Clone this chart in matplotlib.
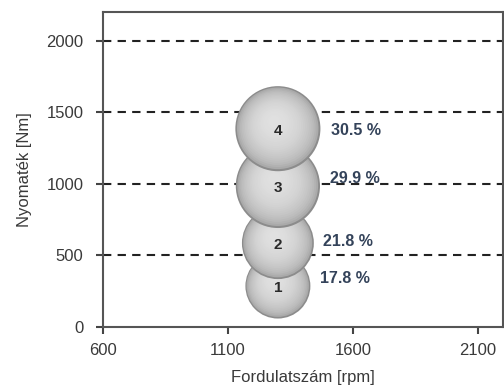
import numpy as np
import matplotlib.pyplot as plt
from matplotlib import transforms

# data
labels = ["1", "2", "3", "4"]
rpm = [1300, 1300, 1300, 1300]
torque = [285, 585, 985, 1385]
share = [17.8, 21.8, 29.9, 30.5]
share_text = ["17.8 %", "21.8 %", "29.9 %", "30.5 %"]
xticks = [600, 1100, 1600, 2100]
yticks = [0, 500, 1000, 1500, 2000]

plt.rcParams['font.family'] = ['Liberation Sans', 'DejaVu Sans']

fig = plt.figure(figsize=(5.04, 3.9), dpi=100)
ax = fig.add_axes([0.204, 0.162, 0.794, 0.807])
ax.set_xlim(600, 2200)
ax.set_ylim(0, 2200)

# dashed horizontal lines
for y in yticks[1:]:
    ax.axhline(y, color='#222222', lw=1.5, ls=(0, (4, 3)), zorder=1)

# shaded "sphere" bubbles, drawn bottom first so upper ones overlap
k = 123
fracs = np.linspace(1.0, 0.06, 24)
label_dy = [55, 10, 55, -10]
for i in range(len(labels)):
    s0 = share[i] * k
    for f in fracs:
        g = 0.58 + 0.30 * np.sqrt(max(0.0, 1 - f * f))
        if f > 0.97:
            g = 0.55
        shift = (1 - f) * 6
        tr = transforms.offset_copy(ax.transData, fig=fig, x=-shift * 0.5, y=shift, units='points')
        ax.scatter([rpm[i]], [torque[i]], s=s0 * f * f, color=(g, g, g), edgecolors='none',
                   transform=tr, zorder=3 + i)
    ax.text(rpm[i], torque[i] - 15, labels[i], ha='center', va='center',
            fontsize=11, fontweight='bold', color='#2a2a2a', zorder=3 + i)
    ax.text(rpm[i] + 110 + share[i] * 3.3, torque[i] + label_dy[i], share_text[i],
            ha='left', va='center', fontsize=11.5, fontweight='bold', color='#34435a', zorder=10)

ax.set_xticks(xticks)
ax.set_yticks(yticks)
ax.tick_params(axis='both', colors='#444444', labelcolor='#3a3a3a', labelsize=12,
               length=5, width=1.5, direction='out')
ax.tick_params(axis='x', pad=7)
ax.tick_params(axis='y', pad=9)
for sp in ax.spines.values():
    sp.set_color('#555555')
    sp.set_linewidth(1.5)

ax.set_xlabel("Fordulatszám [rpm]", fontsize=12, color='#3a3a3a', labelpad=8)
ax.set_ylabel("Nyomaték [Nm]", fontsize=12, color='#3a3a3a', labelpad=10)

fig.savefig("out.png", dpi=100)
